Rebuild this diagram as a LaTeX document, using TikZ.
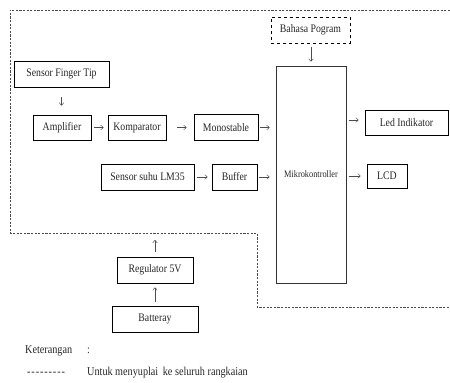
\documentclass[tikz,border=0pt]{standalone}
\usepackage{fontspec}
\setmainfont[FakeStretch=0.85]{Liberation Serif}
\usetikzlibrary{arrows.meta}
\begin{document}
\begin{tikzpicture}[x=1pt,y=-1pt,
  blk/.style={draw=black,line width=0.9pt,inner sep=0pt,font=\fontsize{11.5}{13}\selectfont,text=black!85},
  leg/.style={anchor=base west,inner sep=0pt,font=\fontsize{12}{14}\selectfont,text=black!85},
  pw/.style={draw=black!70,dash pattern=on 2.2pt off 1.4pt,line width=0.6pt},
  arr/.style={draw=black!70,line width=0.5pt,-{To[length=3pt,width=5pt]}}]
\useasboundingbox (0,0) rectangle (450,383);
% power dashed boundary
\draw[pw] (450,10) -- (10,10) -- (10,233) -- (257,233) -- (257,307) -- (450,307);
\coordinate (pwr) at (155,233);
% blocks
\node[blk,minimum width=95pt,minimum height=26pt] (finger) at (61.5,74) {Sensor Finger Tip};
\node[blk,minimum width=58pt,minimum height=25pt] (amp) at (62,127.5) {Amplifier};
\node[blk,minimum width=58pt,minimum height=25pt] (komp) at (137,127.5) {Komparator};
\node[blk,minimum width=64pt,minimum height=26pt] (mono) at (226,127.5) {Monostable};
\node[blk,draw=black!80,minimum width=70pt,minimum height=217pt,font=\fontsize{9.8}{11}\selectfont] (mikro) at (311,174.5) {Mikrokontroller};
\node[blk,dashed,minimum width=79pt,minimum height=26pt] (bahasa) at (310.5,30) {Bahasa Pogram};
\node[blk,minimum width=83pt,minimum height=25pt] (led) at (406.5,122.5) {Led Indikator};
\node[blk,minimum width=40pt,minimum height=24pt] (lcd) at (387,176) {LCD};
\node[blk,minimum width=93pt,minimum height=26pt] (lm35) at (147.5,177) {Sensor suhu LM35};
\node[blk,minimum width=45pt,minimum height=26pt] (buffer) at (234.5,177) {Buffer};
\node[blk,minimum width=76pt,minimum height=26pt] (reg) at (155,270) {Regulator 5V};
\node[blk,minimum width=86pt,minimum height=26pt] (bat) at (155,319) {Batteray};
% connectors
\draw[arr,shorten <=10pt,shorten >=9pt] (finger) -- (finger |- amp.north);
\draw[arr,shorten <=3pt,shorten >=4pt] (amp) -- (komp);
\draw[arr,shorten <=11pt,shorten >=7pt] (komp) -- (mono);
\draw[arr,shorten <=2pt,shorten >=6pt] (mono) -- (mono -| mikro.west);
\draw[arr,shorten <=3pt,shorten >=4pt] (lm35) -- (buffer);
\draw[arr,shorten <=2pt,shorten >=6pt] (buffer) -- (buffer -| mikro.west);
\draw[arr,shorten <=4pt,shorten >=4pt] (bahasa.south -| mikro) -- (mikro.north);
\draw[arr,shorten <=3pt,shorten >=6pt] (mikro.east |- 0,120) coordinate (m1) -- (led.west |- m1);
\draw[arr,shorten <=3pt,shorten >=6pt] (mikro.east |- lcd) -- (lcd);
\draw[arr,shorten <=4pt,shorten >=4pt] (bat.north -| reg) -- (reg.south);
\draw[arr,shorten <=5pt,shorten >=7pt] (reg.north) -- (pwr);
% legend
\node[leg] (ket) at (25,353) {Keterangan};
\node[leg] (colon) at (87,353) {:};
\node[leg] (dashes) at (27,375.5) {-\kern0.9pt-\kern0.9pt-\kern0.9pt-\kern0.9pt-\kern0.9pt-\kern0.9pt-\kern0.9pt-\kern0.9pt-};
\node[leg] (untuk) at (87,375.5) {Untuk menyuplai\, ke seluruh rangkaian};
\end{tikzpicture}
\end{document}
